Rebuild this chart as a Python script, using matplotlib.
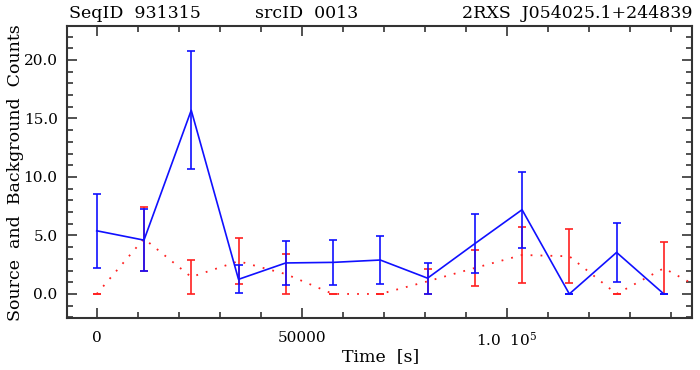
import matplotlib
matplotlib.use('Agg')
import matplotlib.pyplot as plt
from matplotlib.ticker import FixedLocator, MultipleLocator, FixedFormatter

# time bins [s]
t_src = [0, 11520, 23040, 34560, 46080, 57600, 69120, 80640, 92160,
         103680, 115200, 126720, 138240]
t_bkg = [0, 11520, 23040, 34560, 46080, 57600, 69120, 80640, 92160,
         103680, 115200, 126720, 138240, 149760]

# source counts (blue) and errors
src = [5.4, 4.6, 15.7, 1.25, 2.65, 2.7, 2.9, 1.35, 4.3, 7.2, 0.0, 3.55, 0.0]
src_err = [3.15, 2.63, 5.05, 1.2, 1.9, 1.95, 2.05, 1.33, 2.55, 3.23, 0.0, 2.55, 0.0]

# background counts (red) and errors
bkg = [0.0, 4.73, 1.45, 2.8, 1.7, 0.0, 0.0, 1.08, 2.22, 3.33, 3.22, 0.0, 2.2, 0.0]
bkg_err = [0.0, 2.73, 1.45, 1.98, 1.7, 0.0, 0.0, 1.08, 1.54, 2.42, 2.31, 0.0, 2.2, 0.0]

xticks = [0, 50000, 100000]
xticklabels = ['0', '50000', '1.0  10$^5$']
yticks = [0, 5, 10, 15, 20]
yticklabels = ['0.0', '5.0', '10.0', '15.0', '20.0']

plt.rcParams['font.family'] = ['DejaVu Serif']
plt.rcParams['mathtext.fontset'] = 'dejavuserif'

fig = plt.figure(figsize=(7, 3.7), dpi=100)
ax = fig.add_axes([67.3 / 700, 1 - 318.3 / 370, (692 - 67.3) / 700, (318.3 - 26) / 370])

ax.errorbar(t_bkg, bkg, yerr=bkg_err, color='#ff2020', lw=1.3, ls=(0, (1, 4.5)),
            elinewidth=1.2, capsize=3, capthick=1.2, zorder=2)
ax.errorbar(t_src, src, yerr=src_err, color='#1010ff', lw=1.2, ls='-',
            elinewidth=1.2, capsize=3, capthick=1.2, zorder=3)

ax.set_xlim(-7170, 145100)
ax.set_ylim(-2.08, 22.9)

ax.xaxis.set_major_locator(FixedLocator(xticks))
ax.xaxis.set_major_formatter(FixedFormatter(xticklabels))
ax.xaxis.set_minor_locator(MultipleLocator(10000))
ax.yaxis.set_major_locator(FixedLocator(yticks))
ax.yaxis.set_major_formatter(FixedFormatter(yticklabels))
ax.yaxis.set_minor_locator(MultipleLocator(1))

ax.tick_params(which='both', direction='in', top=True, right=True,
               color='#333333', labelsize=11)
ax.tick_params(which='major', length=7.5, width=1.2)
ax.tick_params(which='minor', length=4.5, width=1.2)
ax.tick_params(axis='x', pad=9)
ax.tick_params(axis='y', pad=7)
for s in ax.spines.values():
    s.set_linewidth(1.5)
    s.set_color('#333333')

fig.text(16 / 700, 1 - 173 / 370, 'Source  and  Background  Counts', rotation=90,
         ha='center', va='center', fontsize=12.5)
fig.text(381 / 700, 1 - 357 / 370, 'Time  [s]', ha='center', va='center', fontsize=12.5)

fig.text(69 / 700, 1 - 18 / 370, 'SeqID  931315', ha='left', va='baseline', fontsize=12.5)
fig.text(255 / 700, 1 - 18 / 370, 'srcID  0013', ha='left', va='baseline', fontsize=12.5)
fig.text(692 / 700, 1 - 18 / 370, '2RXS  J054025.1+244839', ha='right', va='baseline',
         fontsize=12.5)

fig.savefig('out.png', dpi=100)
